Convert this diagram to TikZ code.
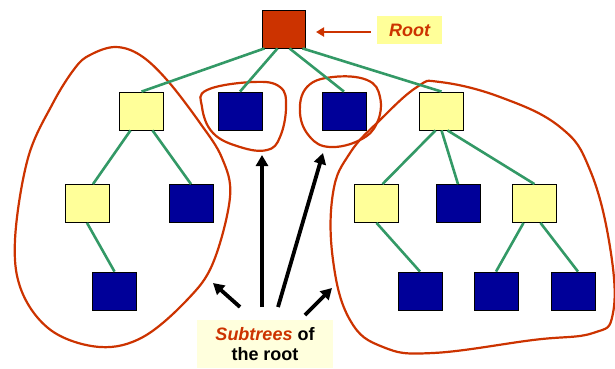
\documentclass[tikz,border=0pt]{standalone}
\usepackage{fontspec}
\setmainfont{Liberation Sans}
\usetikzlibrary{arrows.meta,calc}
\definecolor{rootred}{HTML}{CC3300}
\definecolor{nodeyellow}{HTML}{FFFF99}
\definecolor{nodeblue}{HTML}{000099}
\definecolor{edgegreen}{HTML}{339966}
\definecolor{labelbg}{HTML}{FFFFDD}
\tikzset{
  box/.style={draw=black, line width=0.8pt, minimum width=44pt, minimum height=38pt, inner sep=0pt},
  ybox/.style={box, fill=nodeyellow},
  bbox/.style={box, fill=nodeblue},
  edge/.style={draw=edgegreen, line width=2.6pt},
  blob/.style={draw=rootred, line width=2.2pt},
  bigarrow/.style={draw=black, line width=3.8pt, -{Triangle[length=11pt,width=12pt]}},
}
\begin{document}
\begin{tikzpicture}[x=1pt,y=-1pt]
\useasboundingbox (0,0) rectangle (615,368);
% red outlines (drawn first)
\draw[blob] plot[smooth cycle, tension=0.6] coordinates {(115,47) (90,55) (75,68) (53,103) (28,158) (15,240) (22,292) (52,331) (100,347) (143,337) (187,300) (213,263) (230,197) (222,158) (200,123) (167,80) (140,55)};
\draw[blob] plot[smooth cycle, tension=0.7] coordinates {(207,90) (253,82) (280,87) (286,107) (280,137) (267,150) (240,147) (213,133) (202,107)};
\draw[blob] plot[smooth cycle, tension=0.7] coordinates {(307,87) (333,77) (367,80) (380,97) (377,123) (360,140) (330,147) (310,137) (300,113)};
\draw[blob] plot[smooth cycle, tension=0.7] coordinates {(440,82) (500,97) (560,127) (590,170) (610,247) (613,313) (593,333) (533,340) (433,353) (383,347) (350,320) (333,260) (333,193) (350,153) (380,120) (417,87)};
% nodes
\node[box, fill=rootred, minimum width=43pt] (root) at (283.5,29) {};
\node[ybox] (a) at (141.5,111) {};
\node[bbox] (b) at (240,111) {};
\node[bbox] (c) at (344,111) {};
\node[ybox] (d) at (441.5,111) {};
\node[ybox] (aa) at (87,203.5) {};
\node[bbox] (ab) at (191,203.5) {};
\node[bbox] (aaa) at (114.5,291) {};
\node[ybox] (da) at (376.5,203.5) {};
\node[bbox] (db) at (458,203.5) {};
\node[ybox] (dc) at (534.5,203.5) {};
\node[bbox] (daa) at (420,291) {};
\node[bbox] (dca) at (496,291) {};
\node[bbox] (dcb) at (573,291) {};
% edges
\draw[edge] ([xshift=-19pt]root.south) -- (a.north);
\draw[edge] ([xshift=-6pt]root.south) -- (b.north);
\draw[edge] ([xshift=6pt]root.south) -- (c.north);
\draw[edge] ([xshift=19pt]root.south) -- (d.north);
\draw[edge] ([xshift=-11pt]a.south) -- ([xshift=6pt]aa.north);
\draw[edge] ([xshift=11pt]a.south) -- (ab.north);
\draw[edge] (aa.south) -- (aaa.north);
\draw[edge] ([xshift=-6pt]d.south) -- ([xshift=6pt]da.north);
\draw[edge] (d.south) -- (db.north);
\draw[edge] ([xshift=6pt]d.south) -- (dc.north);
\draw[edge] (da.south) -- (daa.north);
\draw[edge] ([xshift=-11pt]dc.south) -- (dca.north);
\draw[edge] ([xshift=6pt]dc.south) -- ([xshift=5pt]dcb.north);
% root label
\node[fill=nodeyellow, minimum width=65pt, minimum height=28pt, inner sep=0pt, font=\fontsize{18}{20}\selectfont\bfseries\itshape, text=rootred] (rl) at (409.5,30) {Root};
\draw[draw=rootred, line width=2.6pt, -{Triangle[length=8pt,width=9pt]}] (rl.west) ++(-6,2) coordinate (rs) -- (316,32) coordinate (re);
% subtrees label
\node[fill=labelbg, minimum width=136pt, minimum height=48pt, inner sep=0pt, align=center, font=\fontsize{18}{20}\selectfont\bfseries] (sl) at (265,344) {\textcolor{rootred}{\itshape Subtrees} of\\the root};
\coordinate (t1) at (240,307);
\coordinate (h1) at (213,283);
\coordinate (t2) at (262,307);
\coordinate (h2) at (262,155);
\coordinate (t3) at (278,307);
\coordinate (h3) at (323,153);
\coordinate (t4) at (305,315);
\coordinate (h4) at (332,288);
\draw[bigarrow] (t1) -- (h1);
\draw[bigarrow] (t2) -- (h2);
\draw[bigarrow] (t3) -- (h3);
\draw[bigarrow] (t4) -- (h4);
\end{tikzpicture}
\end{document}
